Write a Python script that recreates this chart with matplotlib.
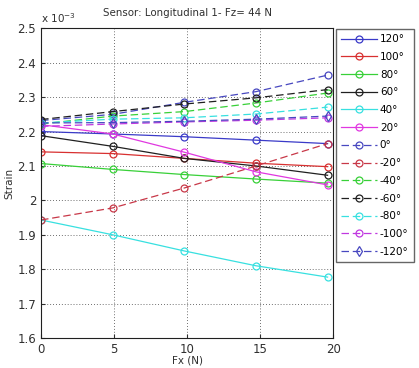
import matplotlib
matplotlib.use("Agg")
import matplotlib.pyplot as plt

fx = [0, 4.905, 9.81, 14.715, 19.62]

labels = ["120°", "100°", "80°", "60°", "40°", "20°", "0°",
          "-20°", "-40°", "-60°", "-80°", "-100°", "-120°"]

s120 = [2.200, 2.193, 2.185, 2.175, 2.165]
s100 = [2.141, 2.136, 2.122, 2.108, 2.098]
s80 = [2.107, 2.090, 2.075, 2.062, 2.050]
s60 = [2.188, 2.157, 2.122, 2.100, 2.073]
s40 = [1.943, 1.900, 1.853, 1.810, 1.777]
s20 = [2.220, 2.193, 2.140, 2.083, 2.045]
s0 = [2.232, 2.250, 2.285, 2.316, 2.364]
sm20 = [1.943, 1.978, 2.036, 2.100, 2.165]
sm40 = [2.222, 2.245, 2.258, 2.283, 2.312]
sm60 = [2.235, 2.258, 2.280, 2.298, 2.322]
sm80 = [2.225, 2.236, 2.240, 2.251, 2.271]
sm100 = [2.215, 2.222, 2.228, 2.233, 2.240]
sm120 = [2.225, 2.226, 2.230, 2.236, 2.245]

series = [s120, s100, s80, s60, s40, s20, s0, sm20, sm40, sm60, sm80, sm100, sm120]
colors = ["#3a3ac8", "#d83030", "#38d038", "#202020", "#38e0e0", "#e038e0",
          "#4848c0", "#c83848", "#38d038", "#202020", "#38e0e0", "#c038e0", "#4848c0"]
styles = ["-"] * 6 + ["--"] * 7
markers = ["o"] * 12 + ["d"]

fig = plt.figure(figsize=(4.19, 3.68), dpi=100)
ax = fig.add_axes([0.098, 0.0815, 0.697, 0.8415])

for ys, c, ls, m, lab in zip(series, colors, styles, markers, labels):
    line, = ax.plot(fx, ys, color=c, linestyle=ls, marker=m, markersize=5,
                    markerfacecolor="none", markeredgecolor=c, linewidth=0.9,
                    markeredgewidth=0.9, label=lab)
    if ls == "--":
        line.set_dashes((6, 3))

ax.set_xlim(0, 20)
ax.set_ylim(1.6, 2.5)
ax.set_xticks([0, 5, 10, 15, 20])
ax.set_yticks([1.6, 1.7, 1.8, 1.9, 2.0, 2.1, 2.2, 2.3, 2.4, 2.5])
ax.set_yticklabels(["1.6", "1.7", "1.8", "1.9", "2", "2.1", "2.2", "2.3", "2.4", "2.5"])
ax.tick_params(labelsize=8.5, direction="in", length=3, colors="#303030")
ax.grid(True, color="#404040", linestyle=(0, (1, 2.5)), linewidth=0.6)
for sp in ax.spines.values():
    sp.set_color("#202020")
    sp.set_linewidth(0.8)

ax.set_xlabel("Fx (N)", fontsize=7.5, labelpad=0, color="#303030")
ax.set_ylabel("Strain", fontsize=7.5, labelpad=2, color="#303030")
ax.set_title("Sensor: Longitudinal 1- Fz= 44 N", fontsize=7.4, color="#303030", pad=9)
ax.text(0.0, 1.012, r"x 10$^{-3}$", transform=ax.transAxes, fontsize=7.5,
        color="#303030", ha="left", va="bottom")

fig.legend(loc="upper left", bbox_to_anchor=(336 / 419, 1 - 29 / 368),
           fontsize=7.5, frameon=True, fancybox=False, edgecolor="#404040",
           handlelength=3.4, labelspacing=0.74, borderpad=0.5, handletextpad=0.3,
           borderaxespad=0)

fig.savefig("out.png", dpi=100)
